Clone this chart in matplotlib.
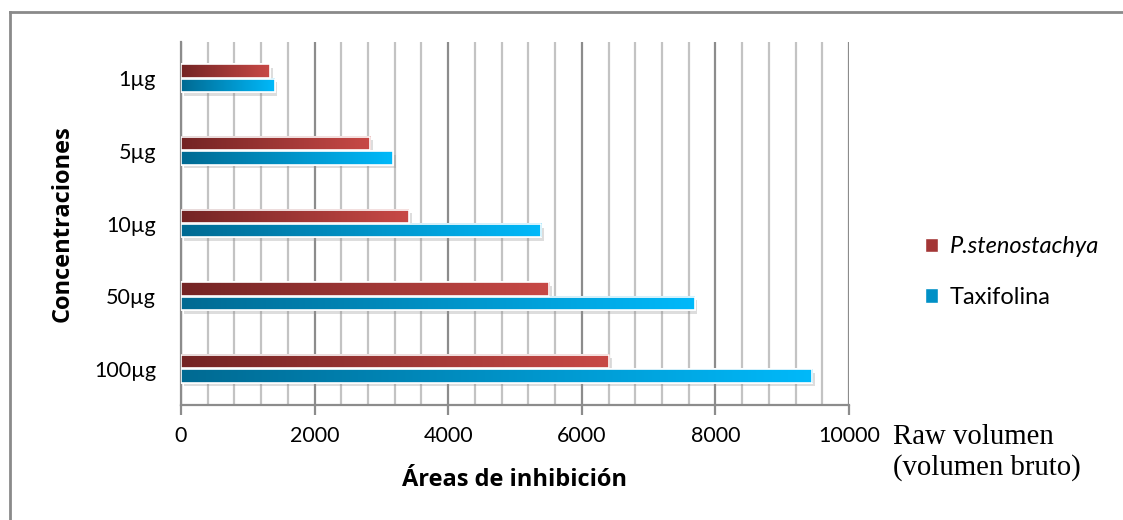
import numpy as np
import matplotlib
matplotlib.use("Agg")
import matplotlib.pyplot as plt
import matplotlib.patheffects as pe
from matplotlib.patches import Rectangle
from matplotlib.lines import Line2D
from matplotlib.colors import LinearSegmentedColormap

categories = ["1µg", "5µg", "10µg", "50µg", "100µg"]
stenostachya = [1330, 2830, 3410, 5510, 6410]
taxifolina = [1400, 3170, 5390, 7690, 9450]
series_names = ["P.stenostachya", "Taxifolina"]
xticks = [0, 2000, 4000, 6000, 8000, 10000]

red_cmap = LinearSegmentedColormap.from_list("r", ["#732424", "#c84946"])
blue_cmap = LinearSegmentedColormap.from_list("b", ["#006a92", "#00b9fa"])

plt.rcParams['font.family'] = ['Lato', 'DejaVu Sans']

fig = plt.figure(figsize=(11.23, 5.20), dpi=100)
ax = fig.add_axes([181/1123, 1-405/520, (849-181)/1123, (405-42)/520])

y = np.arange(len(categories))
h = 0.185
off = 0.1

shadow = [pe.SimplePatchShadow(offset=(2, -2.5), shadow_rgbFace='#909090', alpha=0.3), pe.Normal()]
grad = np.linspace(0, 1, 256).reshape(1, -1)

for vals, cmap, dy in [(stenostachya, red_cmap, -off), (taxifolina, blue_cmap, off)]:
    bars = ax.barh(y + dy, vals, height=h, color='white', edgecolor='white', lw=1.2, zorder=3)
    for b in bars:
        b.set_path_effects(shadow)
        x0, y0 = b.get_x(), b.get_y()
        ax.imshow(grad, cmap=cmap, aspect='auto', zorder=4,
                  extent=[x0, x0 + b.get_width(), y0 + b.get_height(), y0], interpolation='bilinear')
    ax.barh(y + dy, vals, height=h, facecolor='none', edgecolor='white', lw=1.2, zorder=5)

ax.set_xlim(0, 10000)
ax.set_ylim(len(categories) - 0.5, -0.5)
ax.set_xticks(xticks)
ax.set_xticks(np.arange(0, 10001, 400), minor=True)
ax.set_yticks(y)
ax.set_yticklabels(categories)
ax.grid(which='major', axis='x', color='#8c8c8c', lw=1.6, zorder=1)
ax.grid(which='minor', axis='x', color='#c3c3c3', lw=1.6, zorder=1)
ax.set_axisbelow(True)

for s in ['top', 'right']:
    ax.spines[s].set_visible(False)
for s in ['left', 'bottom']:
    ax.spines[s].set_color('#8c8c8c')
    ax.spines[s].set_linewidth(1.6)

ax.tick_params(axis='x', which='major', length=7, width=1.6, color='#8c8c8c', labelsize=15.5, pad=8)
ax.tick_params(axis='x', which='minor', length=0)
ax.tick_params(axis='y', length=0, labelsize=15.5, pad=18)

ax.set_xlabel("Áreas de inhibición", fontsize=17, fontweight='bold', family='Open Sans', labelpad=16)
ax.set_ylabel("Concentraciones", fontsize=17, fontweight='bold', family='Open Sans', labelpad=14)

handles = [Rectangle((0, 0), 1, 1, facecolor='#a33636', edgecolor='white'),
           Rectangle((0, 0), 1, 1, facecolor='#0090c6', edgecolor='white')]
leg = fig.legend(handles, series_names, loc='center left', bbox_to_anchor=(904/1123, 1-272/520),
                 frameon=False, fontsize=17, handlelength=0.55, handleheight=0.55,
                 handletextpad=0.5, labelspacing=1.25)
leg.get_texts()[0].set_fontstyle('italic')

fig.text(893/1123, 1-437/520, "Raw volumen", fontsize=20.7, family='Liberation Serif', va='center', ha='left')
fig.text(893/1123, 1-468/520, "(volumen bruto)", fontsize=20.7, family='Liberation Serif', va='center', ha='left')

fig.add_artist(Line2D([10/1123, 10/1123], [0, 1-12/520], transform=fig.transFigure, color='#8a8a8a', lw=2))
fig.add_artist(Line2D([10/1123, 1], [1-12/520, 1-12/520], transform=fig.transFigure, color='#8a8a8a', lw=2))

fig.savefig("out.png", dpi=100)
